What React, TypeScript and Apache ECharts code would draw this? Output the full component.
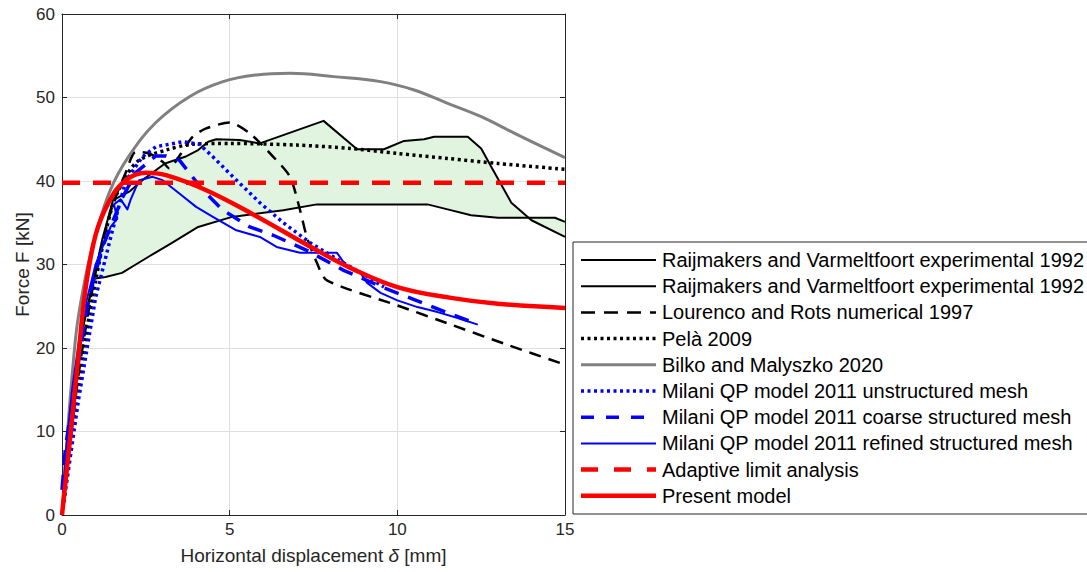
import React, { useEffect, useRef } from "react";
import * as echarts from "echarts";

type P = [number, number];

// ---- data (x: horizontal displacement [mm], y: force [kN]) ----
const expUpper: P[] = [
  [0, 0], [0.3, 12], [0.6, 22], [0.95, 28.3], [1.2, 33], [1.52, 37.7], [2.03, 38.8], [2.4, 40.1],
  [3.07, 42.1], [3.67, 42.9], [4.06, 43.7], [4.36, 44.7], [4.6, 45], [5.3, 44.9], [5.9, 44.5],
  [7.8, 47.2], [8.8, 43.8], [9.6, 43.8], [10.2, 44.8], [10.8, 45], [11.1, 45.3], [12.1, 45.3],
  [12.5, 43.9], [12.8, 41.7], [13.4, 37.4], [14.0, 35.3], [15, 33.3],
];
const expLower: P[] = [
  [0, 0], [0.3, 12], [0.6, 22], [0.95, 28.3], [1.3, 28.5], [1.79, 29], [2.2, 30], [2.57, 30.9],
  [3.28, 32.6], [4.06, 34.5], [5.07, 35.7], [6.6, 36.5], [7.6, 37.2], [10.9, 37.2], [11.5, 36.6],
  [12.2, 35.9], [13, 35.6], [14.7, 35.6], [15, 35.1],
];
const lourenco: P[] = [
  [0, 0], [0.5, 17], [1.0, 29], [1.5, 37], [1.9, 41], [2.2, 43.5], [2.6, 43.3], [3.0, 42.3],
  [3.2, 41.5], [3.5, 43], [3.9, 45.3], [4.3, 46.3], [5.0, 47], [5.6, 45.7], [6.3, 42.9],
  [6.8, 40.5], [7.1, 36.5], [7.3, 33.3], [7.6, 30.2], [7.9, 28.1], [10, 25.1], [11.6, 22.8],
  [13.2, 20.5], [15, 18],
];
const pela: P[] = [
  [0, 0], [0.5, 16], [1, 28], [1.5, 37], [1.9, 40.5], [2.3, 42.5], [3.1, 43.7], [3.9, 44.4],
  [5, 44.5], [7, 44.3], [8.6, 43.9], [10, 43.3], [11.5, 42.7], [13, 42.1], [15, 41.4],
];
const bilko: P[] = [
  [0, 0], [0.4, 21], [0.7, 28.5], [1.0, 33.5], [1.45, 39], [2.0, 43], [2.8, 47], [3.8, 50.1],
  [4.8, 51.9], [5.8, 52.7], [6.8, 52.9], [8.1, 52.5], [9.5, 51.9], [10.5, 50.9], [11.5, 49.3],
  [12.5, 47.7], [13.5, 45.7], [15, 42.8],
];
const milaniUnstructured: P[] = [
  [0, 0], [0.5, 14], [1.0, 26], [1.5, 34], [1.9, 40], [2.4, 42.9], [2.8, 44.1], [3.6, 44.7],
  [4.1, 44.4], [4.5, 42.9], [5.1, 40.5], [5.9, 37.4], [6.6, 35], [7.4, 32.6], [8.1, 30.9],
  [9.0, 28.8], [9.6, 27.3],
];
const milaniCoarse: P[] = [
  [0, 3], [0.1, 8], [0.4, 16], [0.8, 26], [1.2, 32], [1.5, 35], [1.8, 38], [2.2, 41], [2.8, 43],
  [3.1, 43], [3.5, 42.5], [4.2, 38.9], [4.8, 36.5], [5.6, 34.5], [6.3, 33.5], [7.3, 31.7],
  [8.4, 29.3], [9.6, 27.2], [10.5, 25.8], [11.5, 24.2], [12.3, 23],
];
const milaniRefined: P[] = [
  [0, 0], [0.1, 7], [0.3, 15], [0.6, 23.5], [1.0, 30], [1.3, 33], [1.45, 34.5], [1.65, 35.5],
  [1.55, 37.2], [1.75, 37.8], [1.95, 36.6], [2.05, 37.8], [2.3, 40.1], [2.7, 40.5], [3.0, 40.1],
  [3.5, 38.5], [4.0, 36.9], [4.5, 35.7], [5.2, 34.1], [5.9, 33.3], [6.4, 32.1], [7.1, 31.4],
  [8.2, 31.4], [8.5, 29.7], [8.9, 29], [9.1, 27.8], [9.5, 26.6], [10, 25.7], [10.6, 24.9],
  [11.2, 24.3], [11.8, 23.6], [12.4, 22.8],
];
const adaptiveLimit: P[] = [[0, 39.8], [15, 39.8]];
const presentModel: P[] = [
  [0, 0], [0.3, 11.5], [0.5, 19.5], [0.7, 27], [1.0, 33.5], [1.4, 37.5], [1.9, 40.1], [2.5, 41],
  [3.1, 40.7], [4.3, 38.9], [5.7, 36], [7.6, 31.7], [8.6, 29.6], [10, 27.3], [11.6, 26],
  [13, 25.3], [15, 24.8],
];

const xTicks = { min: 0, max: 15, interval: 5 };
const yTicks = { min: 0, max: 60, interval: 10 };

const seriesNames = [
  "Raijmakers and Varmeltfoort experimental 1992",
  "Raijmakers and Varmeltfoort experimental 1992",
  "Lourenco and Rots numerical 1997",
  "Pelà 2009",
  "Bilko and Malyszko 2020",
  "Milani QP model 2011 unstructured mesh",
  "Milani QP model 2011 coarse structured mesh",
  "Milani QP model 2011 refined structured mesh",
  "Adaptive limit analysis",
  "Present model",
];
const seriesData: P[][] = [
  expUpper, expLower, lourenco, pela, bilko,
  milaniUnstructured, milaniCoarse, milaniRefined, adaptiveLimit, presentModel,
];

// styles (separate from data)
const styles: { color: string; width: number; dash?: number[]; smooth?: number }[] = [
  { color: "#000000", width: 2 },
  { color: "#000000", width: 2 },
  { color: "#000000", width: 2.5, dash: [12, 8], smooth: 0.25 },
  { color: "#000000", width: 3.5, dash: [3, 3.5], smooth: 0.3 },
  { color: "#808080", width: 3, smooth: 0.4 },
  { color: "#0000ff", width: 3.5, dash: [3, 3.5] },
  { color: "#0000ff", width: 3.5, dash: [15, 10] },
  { color: "#0000ff", width: 2 },
  { color: "#ff0000", width: 4.5, dash: [18, 13] },
  { color: "#ff0000", width: 4.5, smooth: 0.4 },
];

const FONT = "'Liberation Sans', Arial, Helvetica, sans-serif";
const TXT = "#262626";

export default function App() {
  const ref = useRef<HTMLDivElement>(null);
  useEffect(() => {
    const chart = echarts.init(ref.current!, null, { renderer: "svg" });

    const lineSeries = seriesNames.map((name, i) => ({
      type: "line",
      name,
      data: seriesData[i],
      symbol: "none",
      showSymbol: false,
      smooth: styles[i].smooth ?? false,
      clip: true,
      z: 3 + i,
      lineStyle: {
        color: styles[i].color,
        width: styles[i].width,
        type: styles[i].dash ?? "solid",
        cap: "butt",
        join: "round",
      },
      emphasis: { disabled: true },
    }));

    const fillSeries = {
      type: "custom",
      name: "envelope",
      silent: true,
      z: 1,
      clip: true,
      data: [[0, 0]],
      renderItem: (_params: any, api: any) => {
        const pts = expUpper
          .map((p) => api.coord(p))
          .concat(expLower.slice().reverse().map((p) => api.coord(p)));
        return {
          type: "polygon",
          shape: { points: pts },
          style: { fill: "#e0f4e0", stroke: "none" },
        };
      },
    };

    // legend built with graphic (two entries share the same name)
    const lgX = 573, lgY = 242, rowY0 = 260, rowH = 26.2;
    const legendChildren: any[] = [
      {
        type: "rect",
        shape: { x: lgX, y: lgY, width: 530, height: 272 },
        style: { fill: "#ffffff", stroke: TXT, lineWidth: 1 },
      },
    ];
    const legendDash: (number[] | undefined)[] = [
      undefined, undefined, [14, 9], [3, 3.5], undefined, [3, 3.5], [13, 12], undefined, [17, 16], undefined,
    ];
    seriesNames.forEach((name, i) => {
      const y = rowY0 + i * rowH;
      legendChildren.push({
        type: "line",
        shape: { x1: 581, y1: y, x2: 656, y2: y },
        style: {
          stroke: styles[i].color,
          lineWidth: styles[i].width,
          lineDash: legendDash[i],
          lineCap: "butt",
        },
      });
      legendChildren.push({
        type: "text",
        x: 662,
        y: y,
        style: {
          text: name,
          font: `20px ${FONT}`,
          fill: "#000000",
          verticalAlign: "middle",
          align: "left",
        },
      });
    });

    const axisCommon = {
      axisLine: { show: true, onZero: false, lineStyle: { color: TXT, width: 1 } },
      axisTick: { show: true, inside: true, length: 5, lineStyle: { color: TXT, width: 1 } },
    };

    chart.setOption({
      animation: false,
      backgroundColor: "#ffffff",
      grid: { left: 62, top: 14, width: 503, height: 501, containLabel: false },
      xAxis: [
        {
          type: "value",
          position: "bottom",
          ...xTicks,
          ...axisCommon,
          axisLabel: { color: TXT, fontSize: 17, fontFamily: FONT, margin: 6 },
          splitLine: { show: true, lineStyle: { color: "#dfdfdf", width: 1 } },
          name: "Horizontal displacement {i|δ} [mm]",
          nameLocation: "middle",
          nameGap: 31,
          nameTextStyle: {
            color: TXT,
            fontSize: 19,
            fontFamily: FONT,
            rich: { i: { fontStyle: "italic", fontSize: 19, fontFamily: FONT, color: TXT } },
          },
        },
        {
          type: "value",
          position: "top",
          ...xTicks,
          ...axisCommon,
          axisLabel: { show: false },
          splitLine: { show: false },
        },
      ],
      yAxis: [
        {
          type: "value",
          position: "left",
          ...yTicks,
          ...axisCommon,
          axisLabel: { color: TXT, fontSize: 17, fontFamily: FONT, margin: 7 },
          splitLine: { show: true, lineStyle: { color: "#dfdfdf", width: 1 } },
          name: "Force F [kN]",
          nameLocation: "middle",
          nameGap: 30,
          nameTextStyle: { color: TXT, fontSize: 19, fontFamily: FONT },
        },
        {
          type: "value",
          position: "right",
          ...yTicks,
          ...axisCommon,
          axisLabel: { show: false },
          splitLine: { show: false },
        },
      ],
      series: [fillSeries, ...lineSeries],
      graphic: [{ type: "group", children: legendChildren }],
    } as any);

    return () => chart.dispose();
  }, []);
  return (
    <div
      ref={ref}
      style={{ position: "fixed", left: 0, top: 0, width: 1087, height: 572, background: "#fff" }}
    />
  );
}
